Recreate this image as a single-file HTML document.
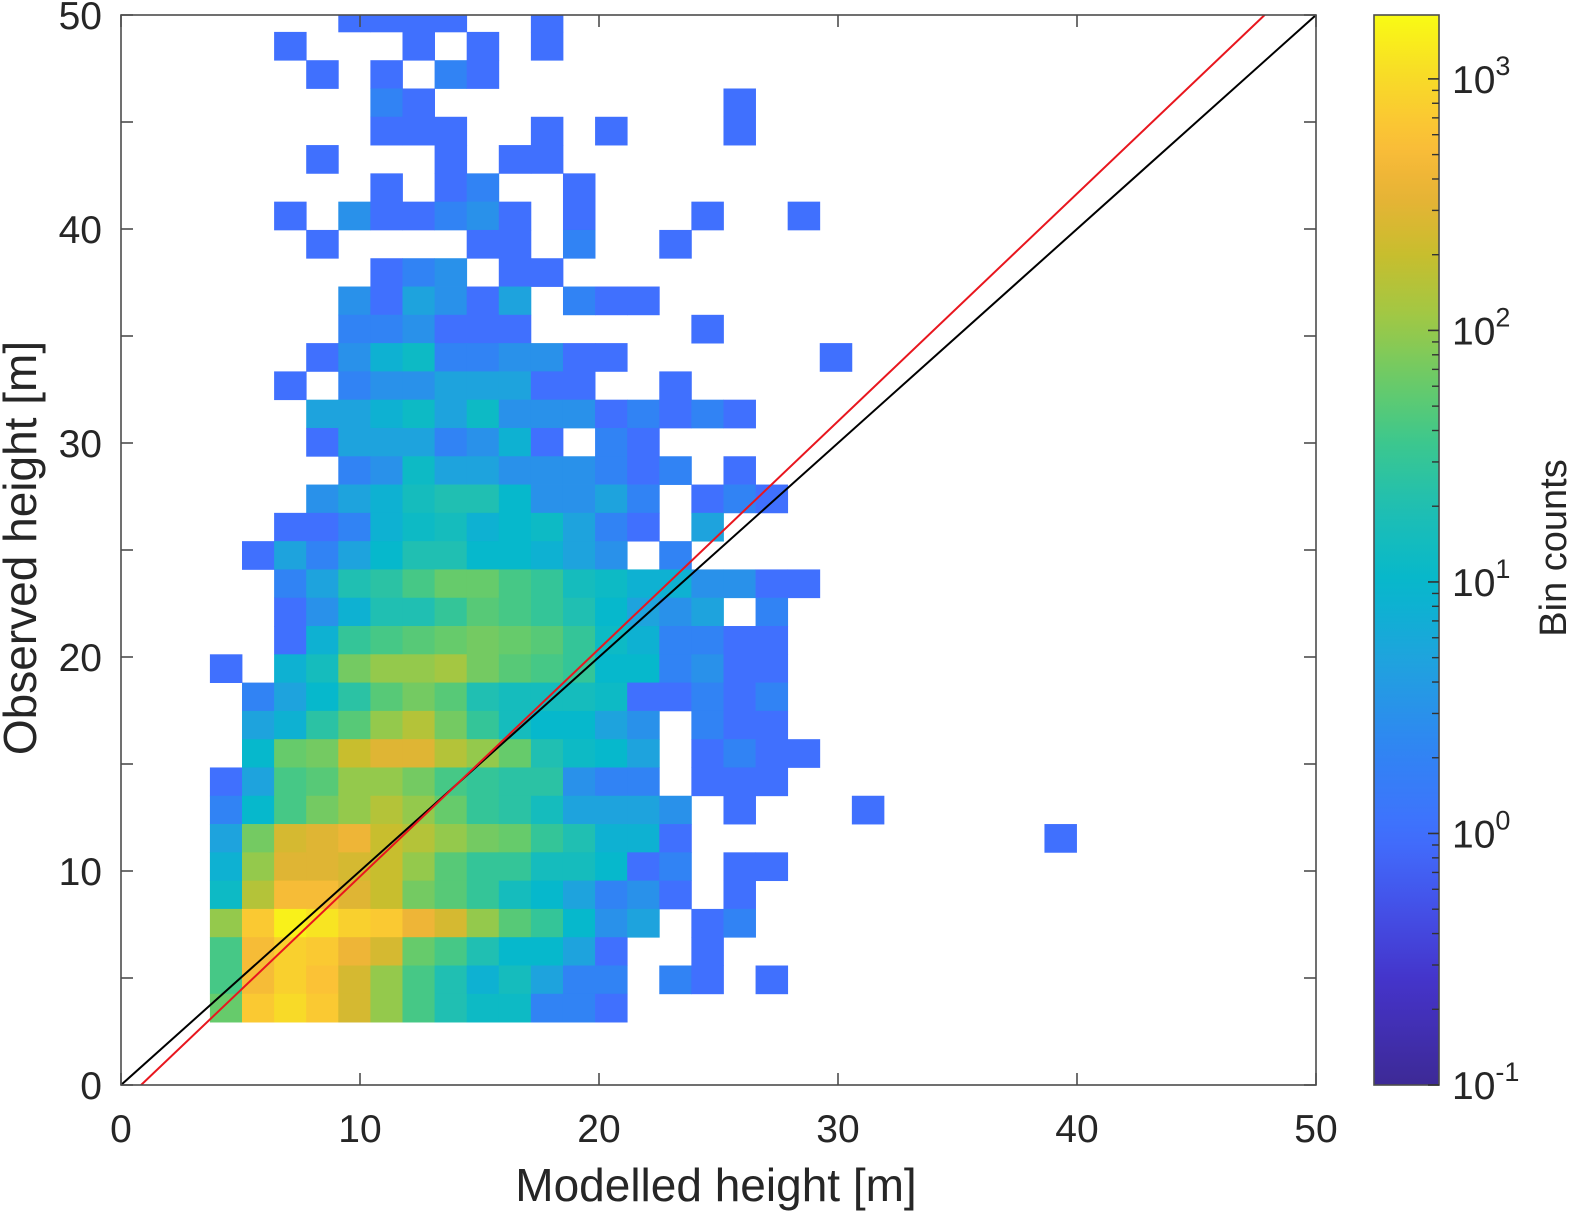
<!DOCTYPE html>
<html><head><meta charset="utf-8">
<style>
html,body{margin:0;padding:0;background:#fff;}
svg{display:block;font-family:"Liberation Sans",Arial,sans-serif;}
</style></head>
<body>
<svg id="chart" width="1576" height="1216" viewBox="0 0 1576 1216" xmlns="http://www.w3.org/2000/svg">
<defs>
<clipPath id="plotclip"><rect x="121" y="15" width="1195" height="1070"/></clipPath>
<linearGradient id="cbgrad" x1="0" y1="1" x2="0" y2="0"></linearGradient>
</defs>
<g id="cells" clip-path="url(#plotclip)"></g>
<g id="lines" clip-path="url(#plotclip)"></g>
<g id="axes"></g>
<g id="colorbar"></g>
<text x="716" y="1201" font-size="46" text-anchor="middle" fill="#262626">Modelled height [m]</text>
<text transform="translate(36,548) rotate(-90)" font-size="46" text-anchor="middle" fill="#262626">Observed height [m]</text>
<text transform="translate(1566,548) rotate(-90)" font-size="38" text-anchor="middle" fill="#262626">Bin counts</text>
</svg>
<script>
// ---- data ----
// rows listed from top (row 35) to bottom (row 0); each char = bin code
const binRows = [
"....1111..1................",
"..1...1.1.1................",
"...1.1.21..................",
".....21.........1..........",
".....111..1.1...1..........",
"...1...1.11................",
".....1.12..1...............",
"..1.311231.1...1..1........",
"...1....11.2..1............",
".....123.11................",
"....314314.211.............",
"....223111.....1...........",
"...1356223311......1.......",
"..1.23344411..1............",
"...44564633312121..........",
"...14442351.21.............",
"....23644333212.1..........",
"...345X77Z3342.121.........",
"..11256X5Z6421.4...........",
".1424Z77ZZ543.2............",
"..247YABBA8X6553311........",
"..1357789A87Z434.2.........",
"..158A9BaB98652211.........",
"1.5Xabbka9A8ZZ2311.........",
".24ZY9a97XXX611212.........",
".45Y9bca8XZZ43.211.........",
".ZBadeecbB76Z4.1211........",
"14A9bbaA8YY322.111.........",
"2ZAabcbB8YX4443.1...1......",
"4aDeEdcbaB87551...........1",
"5beeDdb988XXZ12.11.........",
"6cffeda98XZ4231.1..........",
"bGhHgGEDb98Z34.12..........",
"AfgGEDBA7ZZ41..1...........",
"AfgFDbA75X422.21.1.........",
"BGiGDbA766221.............."
];
const codeChars  = ["1","2","3","4","5","6","Z","X","7","Y","8","A","9","B","a","b","k","c","d","D","e","E","f","F","G","g","i","H","h"];
const codeCounts = [1,2,3,5,8,12,10,15,20,25,30,40,50,60,70,100,120,150,200,250,300,400,500,600,700,800,1000,1200,1500];
const xTicks = [0,10,20,30,40,50];
const yTicks = [0,10,20,30,40,50];
const cbTickExps = [-1,0,1,2,3];
const identityLine = [[0,0],[50,50]];
const fitLine = [[0.84,0],[47.85,50]];
// bin geometry (data units)
const binX0 = 3.72, binDX = 1.343, binY0 = 2.94, binDY = 1.322;

// ---- scales ----
const PL=121, PR=1316, PT=15, PB=1085;
const xs = v => PL + (v/50)*(PR-PL);
const ys = v => PB - (v/50)*(PB-PT);
const CB_L=1374, CB_R=1439, CB_T=15, CB_B=1085, LMIN=-1, LMAX=3.254;
const cbY = l => CB_B - (l-LMIN)/(LMAX-LMIN)*(CB_B-CB_T);
const stops = [[-1,'#3d2a96'],[-0.6,'#4433c8'],[-0.3,'#4450e8'],[0,'#4070fe'],[0.35,'#2f86f2'],[0.65,'#22a0e0'],[1.0,'#06b8cc'],[1.3,'#20bfb2'],[1.55,'#3cc78e'],[1.8,'#6acb68'],[2.05,'#9fc845'],[2.3,'#c8be2e'],[2.55,'#e9b236'],[2.75,'#fbbf38'],[3.0,'#f8da28'],[3.254,'#f9fb14']];
function hex(c){return [1,3,5].map(i=>parseInt(c.substr(i,2),16));}
function cmap(l){
  if(l<=stops[0][0]) return stops[0][1];
  for(let i=1;i<stops.length;i++){
    if(l<=stops[i][0]){
      const t=(l-stops[i-1][0])/(stops[i][0]-stops[i-1][0]);
      const a=hex(stops[i-1][1]), b=hex(stops[i][1]);
      return 'rgb('+a.map((v,k)=>Math.round(v+(b[k]-v)*t)).join(',')+')';
    }
  }
  return stops[stops.length-1][1];
}
const NS='http://www.w3.org/2000/svg';
function mk(tag,attrs,parent){const e=document.createElementNS(NS,tag);for(const k in attrs)e.setAttribute(k,attrs[k]);parent.appendChild(e);return e;}

// ---- cells ----
const gCells=document.getElementById('cells');
const nRows=binRows.length;
binRows.forEach((s,ri)=>{
  const r=nRows-1-ri;
  for(let c=0;c<s.length;c++){
    const idx=codeChars.indexOf(s[c]);
    if(idx<0) continue;
    const cnt=codeCounts[idx];
    const x0=xs(binX0+c*binDX), x1=xs(binX0+(c+1)*binDX);
    const y1=ys(binY0+r*binDY), y0=ys(binY0+(r+1)*binDY);
    const rc=mk('rect',{x:x0,y:y0,width:x1-x0+0.4,height:y1-y0+0.4,fill:cmap(Math.log10(cnt))},gCells);
    
    
  }
});

// ---- lines ----
const gL=document.getElementById('lines');
const l1=mk('line',{x1:xs(identityLine[0][0]),y1:ys(identityLine[0][1]),x2:xs(identityLine[1][0]),y2:ys(identityLine[1][1]),stroke:'#000','stroke-width':2},gL);


const l2=mk('line',{x1:xs(fitLine[0][0]),y1:ys(fitLine[0][1]),x2:xs(fitLine[1][0]),y2:ys(fitLine[1][1]),stroke:'#e8161e','stroke-width':2},gL);



// ---- axes ----
const gA=document.getElementById('axes');
const box=mk('rect',{x:PL,y:PT,width:PR-PL,height:PB-PT,fill:'none',stroke:'#4d4d4d','stroke-width':1.6},gA);


xTicks.forEach(v=>{
  const x=xs(v);
  mk('line',{x1:x,y1:PB,x2:x,y2:PB-12,stroke:'#4d4d4d','stroke-width':1.6},gA);
  mk('line',{x1:x,y1:PT,x2:x,y2:PT+12,stroke:'#4d4d4d','stroke-width':1.6},gA);
  const t=mk('text',{x:x,y:1142,'font-size':39,'text-anchor':'middle',fill:'#262626'},gA);
  t.textContent=v;
  
  
});
for(let v=0;v<=50;v+=5){
  const y=ys(v);
  mk('line',{x1:PL,y1:y,x2:PL+12,y2:y,stroke:'#4d4d4d','stroke-width':1.6},gA);
  mk('line',{x1:PR,y1:y,x2:PR-12,y2:y,stroke:'#4d4d4d','stroke-width':1.6},gA);
}
yTicks.forEach(v=>{
  const t=mk('text',{x:102,y:ys(v)+14,'font-size':39,'text-anchor':'end',fill:'#262626'},gA);
  t.textContent=v;
  
  
});

// ---- colorbar ----
const grad=document.getElementById('cbgrad');
for(let i=0;i<=40;i++){
  const l=LMIN+(LMAX-LMIN)*i/40;
  mk('stop',{offset:(i/40*100)+'%','stop-color':cmap(l)},grad);
}
const gC=document.getElementById('colorbar');
const cbr=mk('rect',{x:CB_L,y:CB_T,width:CB_R-CB_L,height:CB_B-CB_T,fill:'url(#cbgrad)',stroke:'#4d4d4d','stroke-width':1.6},gC);


cbTickExps.forEach(e=>{
  const y=cbY(e);
  mk('line',{x1:CB_R,y1:y,x2:CB_R-11,y2:y,stroke:'#333','stroke-width':1.6},gC);
  if(e<3){
    for(let m=2;m<=9;m++){
      const yy=cbY(e+Math.log10(m));
      mk('line',{x1:CB_R,y1:yy,x2:CB_R-7,y2:yy,stroke:'#333','stroke-width':1.4},gC);
    }
  }
  const t=mk('text',{x:1452,y:y+14,'font-size':39,fill:'#262626'},gC);
  
  
  t.appendChild(document.createTextNode('10'));
  const sp=mk('tspan',{dy:-18,'font-size':27},t);
  sp.textContent=e;
});
</script>
</body></html>
